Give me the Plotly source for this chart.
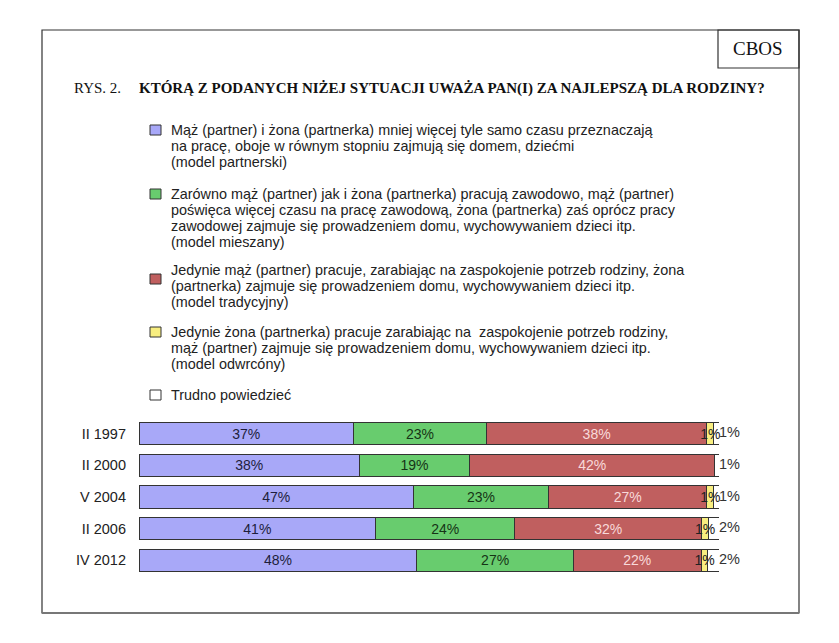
import plotly.graph_objects as go

# ---- data ----
okresy = ["II 1997", "II 2000", "V 2004", "II 2006", "IV 2012"]
partnerski = [37.0, 38.0, 47.3, 40.8, 47.9]
mieszany = [22.9, 19.0, 23.3, 24.0, 27.0]
tradycyjny = [38.0, 42.3, 27.3, 32.2, 22.0]
odwrocony = [1.2, 0.0, 1.2, 1.2, 1.2]
trudno = [0.9, 0.7, 0.9, 1.8, 1.9]

nazwy_linie = [
    ["Mąż (partner) i żona (partnerka) mniej więcej tyle samo czasu przeznaczają",
     "na pracę, oboje w równym stopniu zajmują się domem, dziećmi",
     "(model partnerski)"],
    ["Zarówno mąż (partner) jak i żona (partnerka) pracują zawodowo, mąż (partner)",
     "poświęca więcej czasu na pracę zawodową, żona (partnerka) zaś oprócz pracy",
     "zawodowej zajmuje się prowadzeniem domu, wychowywaniem dzieci itp.",
     "(model mieszany)"],
    ["Jedynie mąż (partner) pracuje, zarabiając na zaspokojenie potrzeb rodziny, żona",
     "(partnerka) zajmuje się prowadzeniem domu, wychowywaniem dzieci itp.",
     "(model tradycyjny)"],
    ["Jedynie żona (partnerka) pracuje zarabiając na  zaspokojenie potrzeb rodziny,",
     "mąż (partner) zajmuje się prowadzeniem domu, wychowywaniem dzieci itp.",
     "(model odwrcóny)"],
    ["Trudno powiedzieć"],
]
serie = [partnerski, mieszany, tradycyjny, odwrocony, trudno]
kolory = ["#A8A8F8", "#68CC6E", "#C05F5F", "#F8EE80", "#FFFFFF"]
kolory_slupkow = ["#A8A8F8", "#68CC6E", "#C05F5F", "#F8EE80", "rgba(255,255,255,0)"]
kolory_tekstu = ["#1E1E3C", "#163416", "#F8DADA", "#222222", "#333333"]

# ---- layout geometry ----
W, H = 839, 643
OFF = 8                      # page body margin
L, R, T, B = 139 - OFF, 719 - OFF, 418 - OFF, 576 - OFF


def px(x):
    return (x - OFF - L) / (R - L)


def py(y):
    return (B - (y - OFF)) / (B - T)


fig = go.Figure()
for i, vals in enumerate(serie):
    fig.add_trace(go.Bar(
        y=okresy, x=vals, orientation="h", name=nazwy_linie[i][0],
        marker=dict(color=kolory_slupkow[i], line=dict(color="#333333", width=1)),
        text=[f"{round(v)}%" if v > 0 else "" for v in vals],
        textposition="none" if i == 4 else "inside",
        insidetextanchor="middle",
        textangle=0,
        insidetextfont=dict(color=kolory_tekstu[i], size=14, family="Liberation Sans"),
        constraintext="none",
        cliponaxis=False,
        hoverinfo="skip",
        showlegend=False,
    ))

# labels of the last ("Trudno powiedzieć") segment, right of the bar ends
sumy = [sum(v) for v in zip(*serie)]
fig.add_trace(go.Scatter(
    x=sumy, y=okresy, mode="text",
    text=[f"{round(v)}%" for v in trudno],
    textposition="middle right",
    textfont=dict(color="#333333", size=14.5, family="Liberation Sans"),
    cliponaxis=False, showlegend=False, hoverinfo="skip",
))

fig.update_layout(
    width=W, height=H,
    barmode="stack", bargap=0.3,
    margin=dict(l=L, r=W - R, t=T, b=H - B),
    paper_bgcolor="white", plot_bgcolor="white",
    font=dict(family="Liberation Sans", color="#222222", size=14),
    uniformtext=dict(minsize=14, mode="show"),
    showlegend=False,
    xaxis=dict(range=[0, 100], visible=False, fixedrange=True),
    yaxis=dict(autorange="reversed", showgrid=False, showline=False, ticks="",
               ticklabelstandoff=12, tickfont=dict(size=14.5, color="#222222")),
)

# custom legend (squares + text lines)
linie_y = [[130, 146, 162], [194, 210, 226, 242], [270, 286, 302], [332, 348, 364], [395]]
kwadrat_y = [130, 194, 279, 332, 395]
for i in range(5):
    yc = kwadrat_y[i]
    fig.add_shape(type="rect", xref="paper", yref="paper",
                  x0=px(150), x1=px(161), y0=py(yc + 5), y1=py(yc - 5),
                  fillcolor=kolory[i], line=dict(color="#333333", width=1))
    for txt, yl in zip(nazwy_linie[i], linie_y[i]):
        fig.add_annotation(xref="paper", yref="paper", x=px(169), y=py(yl),
                           xanchor="left", yanchor="middle", text=txt, showarrow=False,
                           font=dict(family="Liberation Sans", size=14.4, color="#222222"))

# frame and CBOS box
fig.add_shape(type="rect", xref="paper", yref="paper",
              x0=px(42), x1=px(799), y0=py(613), y1=py(30),
              line=dict(color="#333333", width=1.2), layer="below")
fig.add_shape(type="line", xref="paper", yref="paper",
              x0=px(42), x1=px(799), y0=py(613), y1=py(613),
              line=dict(color="#777777", width=2))
fig.add_shape(type="rect", xref="paper", yref="paper",
              x0=px(718), x1=px(799), y0=py(68), y1=py(30),
              line=dict(color="#333333", width=1.2))
fig.add_annotation(xref="paper", yref="paper", x=px(758), y=py(48),
                   xanchor="center", yanchor="middle",
                   text="CBOS", showarrow=False,
                   font=dict(family="Liberation Serif", size=19, color="#111111"))
fig.add_annotation(xref="paper", yref="paper", x=px(72), y=py(88),
                   xanchor="left", yanchor="middle", text="RYS. 2.", showarrow=False,
                   font=dict(family="Liberation Serif", size=15, color="#111111"))
fig.add_annotation(xref="paper", yref="paper", x=px(137), y=py(88),
                   xanchor="left", yanchor="middle",
                   text="<b>KTÓRĄ Z PODANYCH NIŻEJ SYTUACJI UWAŻA PAN(I) ZA NAJLEPSZĄ DLA RODZINY?</b>",
                   showarrow=False,
                   font=dict(family="Liberation Serif", size=15, color="#111111"))

fig.write_html("out.html")
